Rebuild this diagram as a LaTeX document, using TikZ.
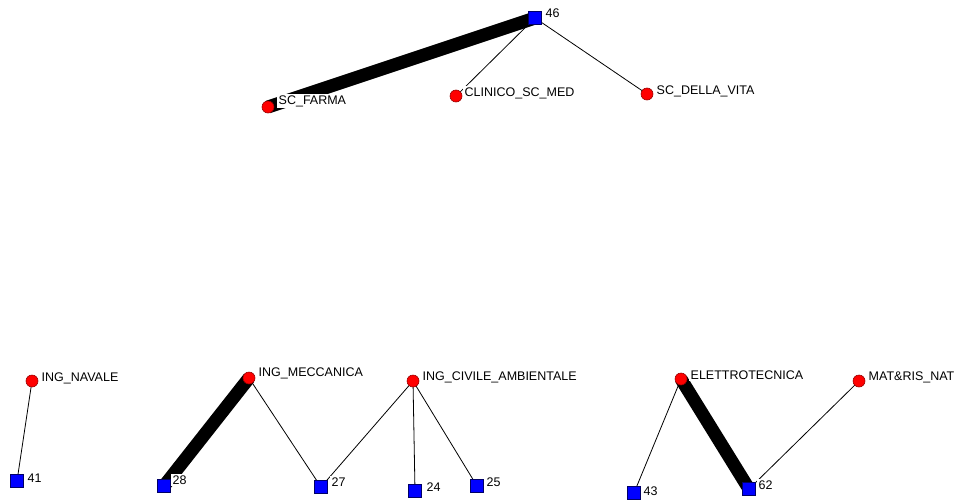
\documentclass[tikz,border=0pt]{standalone}
\usepackage{fontspec}
\setmainfont{Liberation Sans}
\usetikzlibrary{backgrounds}
\begin{document}
\begin{tikzpicture}[x=1pt,y=-1pt,
  sq/.style={draw=blue!40!black, fill=blue, minimum size=13pt, inner sep=0pt, rectangle, line width=0.6pt},
  ci/.style={draw=red!60!black, fill=red, minimum size=12pt, inner sep=0pt, circle, line width=0.6pt},
  lbl/.style={anchor=west, fill=white, inner sep=1.5pt, font=\fontsize{12.5}{13}\selectfont},
  thin/.style={line width=0.8pt},
  thick/.style={line width=13pt}]
\useasboundingbox (0,0) rectangle (961,501);
% nodes
\node[sq] (n46) at (535,18) {};
\node[ci] (farma) at (268,107) {};
\node[ci] (clin) at (456,96) {};
\node[ci] (vita) at (647,94) {};
\node[ci] (naval) at (32,381) {};
\node[sq] (n41) at (17,481) {};
\node[ci] (mecc) at (249,378) {};
\node[sq] (n28) at (164,486) {};
\node[sq] (n27) at (321,487) {};
\node[ci] (civ) at (413,381) {};
\node[sq] (n24) at (415,491) {};
\node[sq] (n25) at (477,486) {};
\node[ci] (elet) at (681,379) {};
\node[sq] (n43) at (634,493) {};
\node[ci] (mat) at (859,381) {};
\node[sq] (n62) at (749,489) {};
% edges
\begin{scope}[on background layer]
\draw[thick] (n46.center) -- (farma.center);
\draw[thin] (n46.center) -- (clin.center);
\draw[thin] (n46.center) -- (vita.center);
\draw[thin] (naval.center) -- (n41.center);
\draw[thick] (mecc.center) -- (n28.center);
\draw[thin] (mecc.center) -- (n27.center);
\draw[thin] (civ.center) -- (n27.center);
\draw[thin] (civ.center) -- (n24.center);
\draw[thin] (civ.center) -- (n25.center);
\draw[thin] (elet.center) -- (n43.center);
\draw[thick] (elet.center) -- (n62.center);
\draw[thin] (mat.center) -- (n62.center);
\end{scope}
% labels
\node[lbl] (l46) at (544,13) {46};
\node[lbl] (lfarma) at (277,101) {SC\_FARMA};
\node[lbl] (lclin) at (463,93) {CLINICO\_SC\_MED};
\node[lbl] (lvita) at (655,91) {SC\_DELLA\_VITA};
\node[lbl] (lnaval) at (40,378) {ING\_NAVALE};
\node[lbl] (l41) at (26,478) {41};
\node[lbl] (lmecc) at (257,373) {ING\_MECCANICA};
\node[lbl] (l28) at (171,480) {28};
\node[lbl] (l27) at (330,482) {27};
\node[lbl] (lciv) at (421,377) {ING\_CIVILE\_AMBIENTALE};
\node[lbl] (l24) at (425,487) {24};
\node[lbl] (l25) at (485,482) {25};
\node[lbl] (lelet) at (689,375) {ELETTROTECNICA};
\node[lbl] (l43) at (642,491) {43};
\node[lbl] (lmat) at (867,377) {MAT\&RIS\_NAT};
\node[lbl] (l62) at (757,485) {62};
\end{tikzpicture}
\end{document}
